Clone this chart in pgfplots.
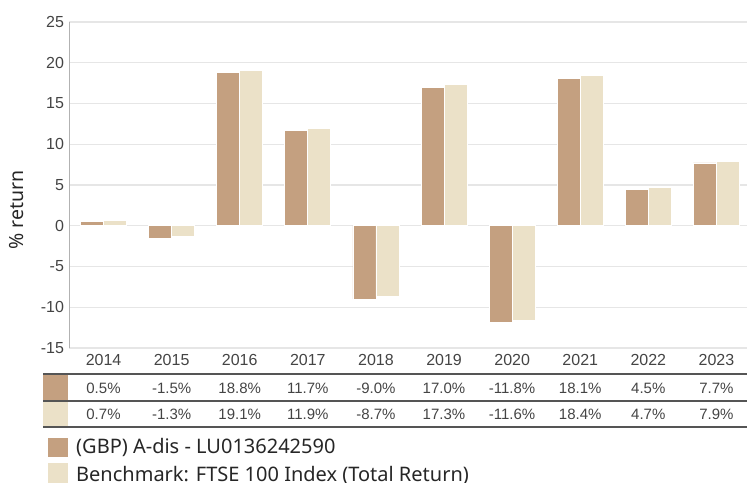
\documentclass[border=0pt]{standalone}
\usepackage{fontspec}
\setmainfont{Liberation Sans}
\newfontfamily\legfont{Noto Sans}
\usepackage{pgfplots}
\pgfplotsset{compat=1.18}
\usepackage{pgfplotstable}
\definecolor{fund}{RGB}{196,160,128}
\definecolor{bench}{RGB}{235,225,200}
\definecolor{txt}{RGB}{68,68,68}
\definecolor{gridc}{RGB}{230,230,230}
\definecolor{rule}{RGB}{85,85,85}

\pgfplotstableread{
x fund bench
0 0.5 0.7
1 -1.5 -1.3
2 18.8 19.1
3 11.7 11.9
4 -9.0 -8.7
5 17.0 17.3
6 -11.8 -11.6
7 18.1 18.4
8 4.5 4.7
9 7.7 7.9
}\data

\begin{document}
\begin{tikzpicture}[x=1pt,y=1pt]
\useasboundingbox (0,0) rectangle (747,482);
\begin{axis}[
  scale only axis, width=681pt, height=326pt,
  at={(69.5pt,134pt)}, anchor=south west,
  xmin=-0.5, xmax=9.5, ymin=-15, ymax=25,
  ytick={-15,-10,...,25},
  xtick={0,...,9},
  xticklabels={2014,2015,2016,2017,2018,2019,2020,2021,2022,2023},
  ymajorgrids, grid style={gridc, line width=1.2pt},
  axis lines*=left,
  x axis line style={draw=none},
  y axis line style={draw=black!30, line width=1pt},
  major tick length=0pt,
  tick label style={font=\fontsize{16}{18}\selectfont, text=txt},
  /pgf/number format/assume math mode=true,
  yticklabel style={xshift=-2pt},
  xticklabel style={yshift=-3pt},
  clip=false,
]
\addplot[ybar, bar width=23pt, bar shift=-11.5pt, fill=fund, draw=white, line width=0.8pt] table[x=x,y=fund]{\data};
\addplot[ybar, bar width=23pt, bar shift=11.5pt, fill=bench, draw=white, line width=0.8pt] table[x=x,y=bench]{\data};
\end{axis}
% data table below the chart
\fill[fund] (43,82) rectangle (68,107);
\fill[bench] (43,56) rectangle (68,80);
\draw[rule, line width=1.4pt] (43,108) -- (747,108);
\draw[rule, line width=1.4pt] (43,81) -- (747,81);
\draw[rule, line width=1.4pt] (43,55) -- (747,55);
\foreach \v [count=\i from 0] in {0.5,-1.5,18.8,11.7,-9.0,17.0,-11.8,18.1,4.5,7.7}
  \node[font=\fontsize{15}{17}\selectfont, text=txt] at ({103.5+68.1*\i},94) {\v\%};
\foreach \v [count=\i from 0] in {0.7,-1.3,19.1,11.9,-8.7,17.3,-11.6,18.4,4.7,7.9}
  \node[font=\fontsize{15}{17}\selectfont, text=txt] at ({103.5+68.1*\i},68) {\v\%};
% legend
\fill[fund] (48,25) rectangle (68,44);
\fill[bench] (48,-2) rectangle (68,19);
\node[anchor=base west, inner sep=0pt, font=\legfont\fontsize{20}{22}\selectfont, text=black!85] at (76,28) {(GBP) A-dis - LU0136242590};
\node[anchor=base west, inner sep=0pt, font=\legfont\fontsize{20}{22}\selectfont, text=black!85] at (76,1) {Benchmark: FTSE 100 Index (Total Return)};
% y label
\node[rotate=90, font=\legfont\fontsize{19.5}{22}\selectfont, text=black!85] at (17,272) {\% return};
\end{tikzpicture}
\end{document}
